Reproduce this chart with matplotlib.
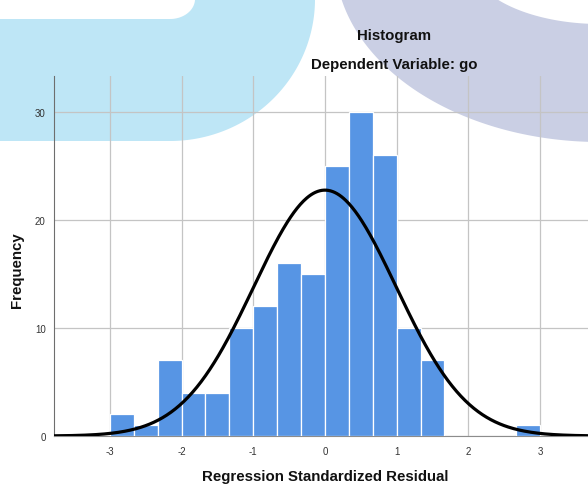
import numpy as np
import matplotlib
matplotlib.use('Agg')
import matplotlib.pyplot as plt
from matplotlib.patches import Polygon

plt.rcParams['font.family'] = ['Liberation Sans', 'DejaVu Sans']
plt.rcParams['axes.unicode_minus'] = False

# histogram of regression standardized residuals, bins of width 1/3 from -3 to 3
bin_start = -3.0
bin_width = 1 / 3
counts = [2, 1, 7, 4, 4, 10, 12, 16, 15, 25, 30, 26, 10, 7, 0, 0, 0, 1]

# normal curve overlay (SPSS summary)
n_obs = 170
resid_mean = 0.0
resid_sd = 0.994

x_ticks = [-3, -2, -1, 0, 1, 2, 3]
y_ticks = [0, 10, 20, 30]

W, H = 588, 485
fig = plt.figure(figsize=(W / 100, H / 100), dpi=100)

# watermark shapes behind the chart, in pixel coords
bg = fig.add_axes([0, 0, 1, 1], zorder=0)
bg.set_xlim(0, W)
bg.set_ylim(H, 0)
bg.axis('off')

# light blue band (top left)
t = np.linspace(0, np.pi / 2, 200)
outer = np.column_stack([170 + 145 * np.cos(t), 142 * np.sin(t)])
inner = np.column_stack([170 + 25 * np.cos(t[::-1]), 20 * np.sin(t[::-1])])
blue_pts = np.vstack([outer, [[0, 142], [0, 20]], inner, [[195, -5], [315, -5]]])
bg.add_patch(Polygon(blue_pts, closed=True, facecolor='#bee6f6', edgecolor='none'))

# lavender band (top right)
t = np.linspace(np.pi / 2, np.pi, 300)
outer = np.column_stack([600 + 265 * np.cos(t), -40 + 183 * np.sin(t)])
inner = np.column_stack([600 + 131 * np.cos(t), -40 + 65 * np.sin(t)])
lav_pts = np.vstack([outer, inner[::-1], [[610, 25], [610, 143]]])
bg.add_patch(Polygon(lav_pts, closed=True, facecolor='#cacfe4', edgecolor='none'))

# main chart
ax = fig.add_axes([54 / W, (H - 437) / H, (W - 54) / W, (437 - 77) / H], zorder=1)
ax.patch.set_alpha(0)

edges = bin_start + bin_width * np.arange(len(counts))
counts = np.array(counts)
mask = counts > 0
ax.bar(edges[mask], counts[mask], width=bin_width, align='edge',
       color='#5795e4', edgecolor='white', linewidth=0.9, zorder=3)

xs = np.linspace(-3.8, 3.7, 500)
pdf = np.exp(-0.5 * ((xs - resid_mean) / resid_sd) ** 2) / (resid_sd * np.sqrt(2 * np.pi))
ax.plot(xs, n_obs * bin_width * pdf, color='black', lw=2.3, zorder=4)

ax.set_xlim(-3.78, 3.67)
ax.set_ylim(0, 33.3)
ax.set_xticks(x_ticks)
ax.set_yticks(y_ticks)
ax.grid(True, color='#c4c4c4', lw=0.9, zorder=1)
ax.set_axisbelow(True)
ax.tick_params(length=0, labelsize=7, labelcolor='#333333')
ax.tick_params(axis='y', pad=6)
ax.tick_params(axis='x', pad=7)

for side in ['top', 'right']:
    ax.spines[side].set_visible(False)
ax.spines['left'].set_color('#6e6e6e')
ax.spines['bottom'].set_color('#8c8c8c')

txt = dict(fontsize=10.8, fontweight='bold', color='#111111', ha='center', va='center')
fig.text(325 / W, 1 - 477 / H, 'Regression Standardized Residual', **txt)
fig.text(17 / W, 1 - 270 / H, 'Frequency', rotation=90, **txt)
fig.text(394 / W, 1 - 36 / H, 'Histogram', **txt)
fig.text(394 / W, 1 - 65 / H, 'Dependent Variable: go', **txt)

fig.savefig('out.png', dpi=100)
